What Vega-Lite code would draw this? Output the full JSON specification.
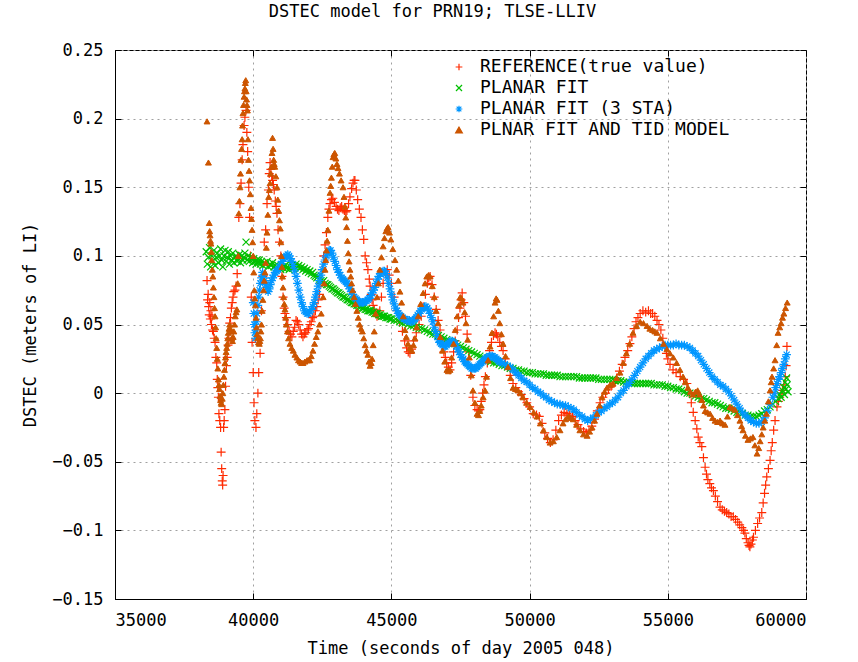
{
  "$schema": "https://vega.github.io/schema/vega-lite/v6.json",
  "width": 691,
  "height": 549,
  "autosize": {"type": "none"},
  "padding": {"left": 115, "top": 50, "right": 52, "bottom": 63},
  "background": "#ffffff",
  "title": {"text": "DSTEC model for PRN19; TLSE-LLIV", "font": "DejaVu Sans Mono", "fontSize": 17, "fontWeight": "normal", "color": "#000", "offset": 20, "dx": -28},
  "encoding": {
    "x": {"field": "t", "type": "quantitative", "scale": {"domain": [35000, 60000], "nice": false, "zero": false}},
    "y": {"field": "v", "type": "quantitative", "scale": {"domain": [-0.15, 0.25], "nice": false, "zero": false}}
  },
  "layer": [
    {
      "data": {"format": {"type": "csv", "parse": {"t": "number", "v": "number"}}, "values": "t,v\n38330,0.082\n38350,0.068\n38370,0.072\n38390,0.063\n38410,0.057\n38430,0.066\n38450,0.054\n38470,0.06\n38490,0.05\n38510,0.056\n38530,0.046\n38560,0.045\n38590,0.04\n38620,0.037\n38650,0.026\n38680,0.022\n38700,0.01\n38720,0.004\n38740,-0.003\n38760,-0.015\n38790,-0.02\n38820,-0.025\n38840,-0.043\n38860,-0.055\n38880,-0.064\n38895,-0.067\n38910,-0.06\n38930,-0.025\n38950,-0.02\n38975,-0.012\n39000,0.005\n39030,0.02\n39060,0.026\n39090,0.035\n39120,0.04\n39150,0.051\n39180,0.055\n39210,0.062\n39240,0.066\n39270,0.07\n39300,0.074\n39340,0.075\n39380,0.078\n39420,0.087\n39450,0.1\n39480,0.128\n39520,0.138\n39560,0.153\n39600,0.17\n39630,0.181\n39670,0.195\n39700,0.201\n39740,0.206\n39770,0.19\n39800,0.176\n39840,0.15\n39870,0.128\n39900,0.1\n39930,0.07\n39960,0.037\n40000,0.015\n40030,-0.007\n40060,-0.02\n40100,-0.025\n40130,-0.015\n40170,0.0\n40200,0.015\n40250,0.029\n40300,0.06\n40350,0.085\n40400,0.11\n40450,0.119\n40500,0.138\n40550,0.148\n40580,0.16\n40610,0.168\n40640,0.163\n40670,0.158\n40700,0.155\n40730,0.152\n40760,0.148\n40800,0.14\n40830,0.136\n40860,0.131\n40900,0.119\n40950,0.11\n41000,0.1\n41040,0.085\n41080,0.07\n41120,0.062\n41150,0.058\n41200,0.055\n41250,0.05\n41300,0.045\n41350,0.043\n41400,0.041\n41450,0.045\n41500,0.048\n41550,0.053\n41600,0.052\n41650,0.05\n41700,0.046\n41750,0.043\n41800,0.041\n41850,0.043\n41900,0.044\n41950,0.046\n42000,0.047\n42050,0.05\n42100,0.052\n42150,0.055\n42200,0.056\n42250,0.06\n42300,0.063\n42350,0.068\n42400,0.072\n42450,0.08\n42500,0.09\n42550,0.1\n42600,0.108\n42650,0.117\n42700,0.128\n42740,0.134\n42780,0.138\n42830,0.141\n42880,0.142\n42940,0.139\n43000,0.136\n43050,0.134\n43100,0.133\n43150,0.135\n43200,0.136\n43250,0.134\n43300,0.133\n43350,0.132\n43390,0.133\n43450,0.138\n43500,0.143\n43560,0.149\n43610,0.153\n43650,0.155\n43680,0.155\n43730,0.148\n43780,0.141\n43840,0.134\n43900,0.128\n43950,0.119\n44000,0.112\n44050,0.1\n44100,0.095\n44150,0.09\n44200,0.083\n44230,0.078\n44270,0.072\n44300,0.068\n44340,0.064\n44380,0.061\n44430,0.058\n44480,0.056\n44530,0.057\n44580,0.06\n44640,0.07\n44700,0.08\n44780,0.087\n44850,0.09\n44920,0.086\n45000,0.08\n45100,0.07\n45200,0.06\n45300,0.052\n45400,0.045\n45480,0.038\n45550,0.033\n45610,0.03\n45670,0.029\n45730,0.032\n45800,0.038\n45900,0.044\n46000,0.05\n46080,0.056\n46150,0.063\n46230,0.072\n46300,0.08\n46350,0.084\n46400,0.085\n46470,0.079\n46550,0.07\n46620,0.061\n46690,0.053\n46760,0.046\n46830,0.038\n46900,0.03\n46950,0.026\n47000,0.022\n47060,0.019\n47120,0.017\n47180,0.022\n47250,0.03\n47310,0.038\n47380,0.046\n47430,0.055\n47480,0.062\n47520,0.068\n47560,0.073\n47620,0.066\n47680,0.056\n47740,0.043\n47800,0.03\n47870,0.013\n47950,-0.003\n48020,-0.009\n48100,-0.012\n48150,-0.013\n48200,-0.012\n48250,-0.006\n48300,0.0\n48350,0.006\n48400,0.012\n48470,0.022\n48550,0.031\n48620,0.037\n48690,0.042\n48750,0.044\n48800,0.043\n48850,0.041\n48920,0.037\n48980,0.034\n49040,0.031\n49120,0.025\n49200,0.019\n49300,0.013\n49400,0.007\n49500,0.004\n49600,0.001\n49700,-0.001\n49800,-0.004\n49900,-0.007\n50000,-0.01\n50130,-0.015\n50250,-0.016\n50350,-0.017\n50450,-0.022\n50550,-0.029\n50650,-0.033\n50750,-0.036\n50850,-0.034\n50950,-0.027\n51050,-0.02\n51150,-0.016\n51250,-0.014\n51350,-0.015\n51450,-0.016\n51550,-0.017\n51650,-0.02\n51750,-0.023\n51850,-0.026\n51950,-0.028\n52050,-0.029\n52150,-0.027\n52250,-0.024\n52350,-0.019\n52450,-0.013\n52550,-0.007\n52650,-0.003\n52750,0.0\n52850,0.003\n52950,0.005\n53050,0.007\n53150,0.011\n53250,0.016\n53350,0.021\n53450,0.026\n53550,0.031\n53630,0.036\n53700,0.041\n53780,0.047\n53850,0.052\n53920,0.055\n54000,0.058\n54100,0.06\n54200,0.059\n54300,0.06\n54380,0.058\n54450,0.058\n54530,0.056\n54610,0.053\n54680,0.05\n54750,0.046\n54820,0.04\n54900,0.034\n54950,0.029\n55000,0.025\n55080,0.021\n55190,0.017\n55300,0.015\n55450,0.012\n55570,0.01\n55690,0.007\n55770,0.0\n55850,-0.007\n55920,-0.014\n55990,-0.02\n56050,-0.026\n56100,-0.032\n56160,-0.036\n56230,-0.039\n56290,-0.047\n56350,-0.054\n56400,-0.059\n56450,-0.063\n56520,-0.066\n56580,-0.069\n56650,-0.071\n56720,-0.075\n56800,-0.079\n56890,-0.083\n56970,-0.085\n57050,-0.086\n57130,-0.087\n57210,-0.088\n57290,-0.09\n57370,-0.09\n57450,-0.092\n57530,-0.094\n57600,-0.096\n57680,-0.098\n57740,-0.1\n57790,-0.102\n57840,-0.106\n57900,-0.109\n57940,-0.111\n57970,-0.112\n58010,-0.11\n58060,-0.107\n58100,-0.105\n58170,-0.1\n58250,-0.095\n58320,-0.091\n58400,-0.087\n58450,-0.08\n58500,-0.073\n58540,-0.067\n58580,-0.061\n58640,-0.055\n58700,-0.049\n58740,-0.042\n58780,-0.036\n58830,-0.027\n58880,-0.02\n58950,-0.01\n59000,-0.006\n59050,-0.003\n59100,0.0\n59150,0.002\n59200,0.006\n59250,0.012\n59280,0.02\n59310,0.034"},
      "mark": {"type": "point", "size": 80, "strokeWidth": 1.2, "opacity": 1},
      "encoding": {
        "x": {"field": "t", "type": "quantitative", "axis": {"orient": "bottom", "title": "Time (seconds of day 2005 048)", "values": [35000, 40000, 45000, 50000, 55000, 60000], "format": "d", "grid": true, "tickSize": -6, "labelPadding": 19, "titlePadding": 12, "domain": true}},
        "y": {"field": "v", "type": "quantitative", "axis": {"orient": "left", "title": "DSTEC (meters of LI)", "values": [-0.15, -0.1, -0.05, 0, 0.05, 0.1, 0.15, 0.2, 0.25], "format": ".2~f", "grid": true, "tickSize": -6, "labelPadding": 18, "titlePadding": 12, "domain": true}},
        "stroke": {"datum": "REFERENCE(true value)", "scale": {"domain": ["REFERENCE(true value)", "PLANAR FIT", "PLANAR FIT (3 STA)", "PLNAR FIT AND TID MODEL"], "range": ["#ff2a00", "#00c000", "#0096ff", "#cc5500"]}, "legend": {"title": null}},
        "fill": {"datum": "REFERENCE(true value)", "scale": {"domain": ["REFERENCE(true value)", "PLANAR FIT", "PLANAR FIT (3 STA)", "PLNAR FIT AND TID MODEL"], "range": ["transparent", "transparent", "transparent", "#cc5500"]}, "legend": {"title": null}},
        "shape": {"datum": "REFERENCE(true value)", "scale": {"domain": ["REFERENCE(true value)", "PLANAR FIT", "PLANAR FIT (3 STA)", "PLNAR FIT AND TID MODEL"], "range": ["M-1,0H1M0,-1V1", "M-0.9,-0.9L0.9,0.9M-0.9,0.9L0.9,-0.9", "M-1,0H1M0,-1V1M-0.7,-0.7L0.7,0.7M-0.7,0.7L0.7,-0.7", "triangle-up"]}, "legend": {"title": null}}
      }
    },
    {
      "data": {"format": {"type": "csv", "parse": {"t": "number", "v": "number"}}, "values": "t,v\n38300,0.103\n38340,0.094\n38380,0.099\n38420,0.106\n38460,0.092\n38500,0.1\n38540,0.096\n38580,0.104\n38620,0.093\n38660,0.099\n38700,0.102\n38740,0.095\n38780,0.1\n38820,0.105\n38860,0.097\n38900,0.092\n38940,0.1\n38980,0.104\n39020,0.096\n39060,0.099\n39100,0.103\n39140,0.094\n39180,0.1\n39220,0.097\n39260,0.102\n39300,0.095\n39340,0.099\n39380,0.1\n39420,0.096\n39460,0.098\n39500,0.101\n39540,0.095\n39580,0.1\n39620,0.097\n39660,0.099\n39700,0.102\n39740,0.11\n39780,0.097\n39820,0.1\n39860,0.096\n39900,0.099\n39940,0.098\n39980,0.095\n40020,0.098\n40060,0.096\n40100,0.094\n40140,0.097\n40180,0.095\n40220,0.097\n40260,0.094\n40300,0.096\n40350,0.093\n40400,0.095\n40450,0.094\n40500,0.096\n40550,0.092\n40600,0.094\n40650,0.093\n40700,0.095\n40750,0.092\n40800,0.093\n40850,0.091\n40900,0.093\n40950,0.092\n41000,0.09\n41050,0.092\n41100,0.091\n41150,0.093\n41200,0.091\n41250,0.092\n41300,0.09\n41350,0.092\n41400,0.093\n41450,0.091\n41500,0.092\n41550,0.094\n41600,0.092\n41650,0.093\n41700,0.091\n41750,0.092\n41800,0.09\n41850,0.091\n41900,0.089\n41950,0.09\n42000,0.088\n42050,0.089\n42100,0.087\n42150,0.088\n42200,0.086\n42250,0.085\n42300,0.084\n42350,0.085\n42400,0.083\n42450,0.082\n42500,0.081\n42550,0.082\n42600,0.08\n42650,0.079\n42700,0.079\n42750,0.078\n42800,0.077\n42850,0.076\n42900,0.076\n42950,0.075\n43000,0.074\n43050,0.073\n43100,0.073\n43150,0.072\n43200,0.071\n43250,0.07\n43300,0.07\n43350,0.069\n43400,0.068\n43450,0.068\n43500,0.067\n43550,0.066\n43600,0.066\n43650,0.065\n43700,0.065\n43750,0.064\n43800,0.064\n43850,0.063\n43900,0.063\n43950,0.062\n44000,0.062\n44050,0.061\n44100,0.061\n44150,0.06\n44200,0.06\n44250,0.06\n44300,0.059\n44350,0.059\n44400,0.058\n44450,0.058\n44500,0.058\n44550,0.057\n44600,0.057\n44650,0.056\n44700,0.056\n44750,0.056\n44800,0.055\n44850,0.055\n44900,0.055\n44950,0.054\n45000,0.054\n45100,0.053\n45200,0.053\n45300,0.052\n45400,0.051\n45500,0.051\n45600,0.05\n45700,0.049\n45800,0.049\n45900,0.048\n46000,0.047\n46100,0.047\n46200,0.046\n46300,0.045\n46400,0.044\n46500,0.043\n46600,0.043\n46700,0.042\n46800,0.041\n46900,0.04\n47000,0.039\n47100,0.038\n47200,0.037\n47300,0.036\n47400,0.035\n47500,0.034\n47600,0.033\n47700,0.032\n47800,0.031\n47900,0.03\n48000,0.029\n48100,0.028\n48200,0.027\n48300,0.026\n48400,0.025\n48500,0.024\n48600,0.023\n48700,0.022\n48800,0.022\n48900,0.021\n49000,0.02\n49100,0.02\n49200,0.019\n49300,0.018\n49400,0.018\n49500,0.017\n49600,0.017\n49700,0.016\n49800,0.016\n49900,0.015\n50000,0.015\n50100,0.015\n50200,0.014\n50300,0.014\n50400,0.014\n50500,0.014\n50600,0.013\n50700,0.013\n50800,0.013\n50900,0.013\n51000,0.013\n51100,0.012\n51200,0.012\n51300,0.012\n51400,0.012\n51500,0.012\n51600,0.012\n51700,0.012\n51800,0.011\n51900,0.011\n52000,0.011\n52100,0.011\n52200,0.011\n52300,0.011\n52400,0.011\n52500,0.01\n52600,0.01\n52700,0.01\n52800,0.01\n52900,0.01\n53000,0.01\n53100,0.009\n53200,0.009\n53300,0.009\n53400,0.008\n53500,0.008\n53600,0.008\n53700,0.007\n53800,0.007\n53900,0.007\n54000,0.007\n54100,0.007\n54200,0.007\n54300,0.007\n54400,0.007\n54500,0.006\n54600,0.006\n54700,0.006\n54800,0.006\n54900,0.005\n55000,0.005\n55100,0.004\n55200,0.004\n55300,0.003\n55400,0.003\n55500,0.002\n55600,0.001\n55700,0.0\n55800,0.0\n55900,-0.001\n56000,-0.002\n56100,-0.003\n56200,-0.004\n56300,-0.004\n56400,-0.005\n56500,-0.006\n56600,-0.007\n56700,-0.007\n56800,-0.008\n56900,-0.009\n57000,-0.01\n57100,-0.011\n57200,-0.011\n57300,-0.012\n57400,-0.013\n57500,-0.014\n57600,-0.014\n57700,-0.015\n57800,-0.016\n57900,-0.016\n58000,-0.017\n58100,-0.017\n58200,-0.017\n58300,-0.016\n58400,-0.015\n58500,-0.013\n58600,-0.012\n58700,-0.01\n58800,-0.008\n58900,-0.006\n59000,-0.004\n59050,-0.001\n59100,-0.003\n59150,0.002\n59200,0.004\n59220,-0.001\n59250,0.008\n59280,0.003\n59300,0.011\n59320,0.006\n59350,0.001"},
      "mark": {"type": "point", "size": 60, "strokeWidth": 1.2, "opacity": 1},
      "encoding": {
        "x": {"field": "t", "type": "quantitative", "axis": null},
        "y": {"field": "v", "type": "quantitative", "axis": null},
        "stroke": {"datum": "PLANAR FIT"},
        "fill": {"datum": "PLANAR FIT"},
        "shape": {"datum": "PLANAR FIT"}
      }
    },
    {
      "data": {"format": {"type": "csv", "parse": {"t": "number", "v": "number"}}, "values": "t,v\n40000,0.066\n40020,0.058\n40040,0.05\n40060,0.044\n40080,0.04\n40100,0.046\n40120,0.052\n40140,0.058\n40170,0.064\n40200,0.07\n40230,0.075\n40260,0.08\n40300,0.084\n40340,0.088\n40380,0.086\n40420,0.082\n40460,0.079\n40500,0.077\n40540,0.074\n40580,0.076\n40620,0.079\n40660,0.082\n40700,0.084\n40750,0.086\n40800,0.088\n40850,0.089\n40900,0.09\n40950,0.092\n41000,0.094\n41050,0.096\n41100,0.098\n41150,0.099\n41200,0.1\n41250,0.101\n41300,0.1\n41350,0.098\n41400,0.096\n41450,0.093\n41500,0.089\n41550,0.085\n41600,0.08\n41650,0.075\n41700,0.07\n41750,0.066\n41800,0.063\n41850,0.06\n41900,0.059\n41950,0.058\n42000,0.058\n42050,0.059\n42100,0.061\n42150,0.063\n42200,0.066\n42250,0.07\n42300,0.074\n42350,0.078\n42400,0.082\n42450,0.086\n42500,0.09\n42550,0.094\n42600,0.097\n42650,0.1\n42700,0.102\n42750,0.104\n42800,0.104\n42850,0.102\n42900,0.099\n42950,0.096\n43000,0.093\n43050,0.09\n43100,0.088\n43150,0.086\n43200,0.084\n43250,0.083\n43300,0.082\n43350,0.081\n43400,0.08\n43450,0.078\n43500,0.076\n43550,0.074\n43600,0.072\n43650,0.07\n43700,0.069\n43750,0.068\n43800,0.067\n43850,0.066\n43900,0.066\n43950,0.066\n44000,0.066\n44050,0.067\n44100,0.067\n44150,0.068\n44200,0.069\n44250,0.071\n44300,0.073\n44350,0.075\n44400,0.077\n44450,0.08\n44500,0.083\n44550,0.085\n44600,0.087\n44650,0.088\n44700,0.089\n44750,0.089\n44800,0.087\n44850,0.084\n44900,0.08\n44950,0.076\n45000,0.072\n45050,0.068\n45100,0.065\n45150,0.062\n45200,0.06\n45250,0.058\n45300,0.057\n45350,0.056\n45400,0.055\n45450,0.054\n45500,0.054\n45550,0.053\n45600,0.053\n45650,0.053\n45700,0.052\n45750,0.052\n45800,0.053\n45850,0.054\n45900,0.055\n45950,0.057\n46000,0.058\n46050,0.06\n46100,0.061\n46150,0.062\n46200,0.063\n46250,0.063\n46300,0.062\n46350,0.06\n46400,0.058\n46450,0.055\n46500,0.052\n46550,0.048\n46600,0.045\n46650,0.042\n46700,0.039\n46750,0.037\n46800,0.036\n46850,0.035\n46900,0.034\n46950,0.034\n47000,0.035\n47050,0.036\n47100,0.037\n47150,0.038\n47200,0.038\n47250,0.037\n47300,0.036\n47350,0.034\n47400,0.032\n47450,0.03\n47500,0.028\n47550,0.026\n47600,0.025\n47650,0.023\n47700,0.022\n47750,0.021\n47800,0.02\n47850,0.019\n47900,0.018\n47950,0.018\n48000,0.018\n48050,0.018\n48100,0.019\n48150,0.02\n48200,0.021\n48250,0.022\n48300,0.023\n48350,0.024\n48400,0.025\n48450,0.026\n48500,0.026\n48550,0.027\n48600,0.027\n48650,0.027\n48700,0.026\n48750,0.026\n48800,0.025\n48850,0.024\n48900,0.023\n48950,0.023\n49000,0.022\n49100,0.021\n49200,0.02\n49300,0.019\n49400,0.017\n49500,0.015\n49600,0.013\n49700,0.011\n49800,0.009\n49900,0.008\n50000,0.006\n50100,0.004\n50200,0.003\n50300,0.001\n50400,0.0\n50500,-0.002\n50600,-0.003\n50700,-0.005\n50800,-0.006\n50900,-0.007\n51000,-0.008\n51100,-0.008\n51200,-0.009\n51300,-0.009\n51400,-0.01\n51500,-0.011\n51600,-0.012\n51700,-0.014\n51800,-0.016\n51900,-0.017\n52000,-0.019\n52100,-0.02\n52200,-0.019\n52300,-0.018\n52400,-0.016\n52500,-0.014\n52600,-0.013\n52700,-0.011\n52800,-0.01\n52900,-0.008\n53000,-0.007\n53100,-0.005\n53200,-0.003\n53300,0.0\n53400,0.002\n53500,0.005\n53600,0.007\n53700,0.01\n53800,0.013\n53900,0.016\n54000,0.019\n54100,0.022\n54200,0.025\n54300,0.027\n54400,0.029\n54500,0.031\n54600,0.032\n54700,0.033\n54800,0.034\n54900,0.035\n55000,0.035\n55100,0.035\n55200,0.035\n55300,0.036\n55400,0.035\n55500,0.035\n55600,0.035\n55700,0.034\n55800,0.033\n55900,0.031\n56000,0.029\n56100,0.027\n56200,0.024\n56300,0.021\n56400,0.018\n56500,0.015\n56600,0.012\n56700,0.01\n56800,0.008\n56900,0.006\n57000,0.005\n57100,0.003\n57200,0.001\n57300,-0.002\n57400,-0.005\n57500,-0.008\n57600,-0.011\n57700,-0.014\n57800,-0.016\n57900,-0.018\n58000,-0.02\n58100,-0.021\n58200,-0.022\n58300,-0.022\n58400,-0.021\n58500,-0.018\n58600,-0.013\n58700,-0.008\n58800,-0.003\n58850,0.0\n58900,0.004\n58950,0.007\n59000,0.01\n59050,0.012\n59100,0.015\n59150,0.018\n59200,0.021\n59250,0.025\n59300,0.028"},
      "mark": {"type": "point", "size": 75, "strokeWidth": 1.2, "opacity": 1},
      "encoding": {
        "x": {"field": "t", "type": "quantitative", "axis": null},
        "y": {"field": "v", "type": "quantitative", "axis": null},
        "stroke": {"datum": "PLANAR FIT (3 STA)"},
        "fill": {"datum": "PLANAR FIT (3 STA)"},
        "shape": {"datum": "PLANAR FIT (3 STA)"}
      }
    },
    {
      "data": {"format": {"type": "csv", "parse": {"t": "number", "v": "number"}}, "values": "t,v\n38330,0.198\n38380,0.168\n38410,0.124\n38425,0.118\n38440,0.115\n38455,0.111\n38470,0.109\n38485,0.103\n38500,0.097\n38520,0.09\n38540,0.085\n38560,0.077\n38580,0.07\n38600,0.062\n38620,0.056\n38640,0.048\n38660,0.04\n38680,0.033\n38700,0.025\n38720,0.018\n38740,0.01\n38760,0.006\n38780,0.003\n38800,-0.002\n38820,-0.005\n38840,-0.007\n38860,-0.008\n38880,-0.004\n38900,0.0\n38920,0.006\n38940,0.012\n38960,0.017\n38980,0.022\n39000,0.026\n39020,0.03\n39040,0.033\n39060,0.036\n39080,0.04\n39100,0.044\n39125,0.047\n39150,0.05\n39175,0.047\n39200,0.045\n39225,0.04\n39250,0.038\n39275,0.041\n39300,0.045\n39325,0.05\n39350,0.056\n39380,0.059\n39410,0.061\n39440,0.08\n39460,0.1\n39480,0.131\n39500,0.14\n39520,0.15\n39540,0.16\n39560,0.17\n39580,0.178\n39600,0.185\n39615,0.195\n39630,0.204\n39650,0.21\n39670,0.216\n39685,0.22\n39700,0.222\n39715,0.226\n39730,0.228\n39745,0.22\n39760,0.214\n39775,0.21\n39790,0.206\n39810,0.185\n39830,0.17\n39850,0.162\n39870,0.155\n39895,0.145\n39920,0.135\n39940,0.127\n39960,0.119\n39980,0.11\n40000,0.1\n40020,0.088\n40040,0.075\n40060,0.069\n40080,0.064\n40100,0.055\n40120,0.048\n40140,0.043\n40160,0.04\n40190,0.037\n40220,0.036\n40240,0.038\n40260,0.04\n40280,0.045\n40300,0.05\n40325,0.06\n40350,0.068\n40375,0.075\n40400,0.082\n40425,0.088\n40450,0.095\n40475,0.106\n40500,0.117\n40530,0.13\n40560,0.143\n40585,0.148\n40610,0.153\n40635,0.16\n40660,0.165\n40680,0.175\n40700,0.186\n40720,0.178\n40740,0.17\n40760,0.167\n40780,0.165\n40820,0.158\n40860,0.15\n40890,0.141\n40920,0.133\n40950,0.126\n40980,0.12\n41000,0.11\n41020,0.1\n41040,0.092\n41060,0.085\n41080,0.077\n41100,0.07\n41125,0.065\n41150,0.061\n41175,0.055\n41200,0.05\n41240,0.045\n41280,0.04\n41330,0.036\n41390,0.033\n41450,0.031\n41510,0.028\n41580,0.026\n41640,0.024\n41700,0.023\n41750,0.022\n41800,0.022\n41870,0.023\n41950,0.024\n42000,0.024\n42050,0.024\n42100,0.027\n42160,0.031\n42220,0.036\n42280,0.041\n42340,0.045\n42400,0.05\n42460,0.058\n42530,0.07\n42570,0.08\n42600,0.09\n42625,0.097\n42650,0.104\n42675,0.111\n42700,0.119\n42740,0.133\n42780,0.146\n42805,0.151\n42830,0.157\n42860,0.165\n42890,0.172\n42920,0.174\n42950,0.175\n42990,0.171\n43030,0.167\n43070,0.164\n43120,0.16\n43180,0.155\n43250,0.15\n43285,0.143\n43320,0.136\n43350,0.128\n43380,0.121\n43410,0.111\n43440,0.102\n43470,0.096\n43500,0.09\n43530,0.085\n43560,0.08\n43600,0.075\n43650,0.07\n43700,0.065\n43750,0.06\n43800,0.055\n43850,0.05\n43900,0.047\n43950,0.045\n44000,0.04\n44050,0.035\n44100,0.031\n44150,0.028\n44190,0.023\n44230,0.02\n44270,0.022\n44300,0.025\n44340,0.035\n44380,0.045\n44430,0.058\n44480,0.07\n44530,0.08\n44580,0.09\n44640,0.099\n44700,0.107\n44750,0.113\n44800,0.118\n44840,0.12\n44880,0.121\n44930,0.117\n44980,0.112\n45050,0.105\n45130,0.097\n45190,0.09\n45250,0.082\n45310,0.074\n45370,0.066\n45430,0.056\n45490,0.046\n45540,0.041\n45600,0.036\n45670,0.033\n45740,0.031\n45800,0.035\n45850,0.04\n45910,0.048\n45970,0.056\n46060,0.065\n46150,0.073\n46220,0.08\n46280,0.085\n46340,0.086\n46400,0.085\n46480,0.078\n46550,0.07\n46620,0.06\n46690,0.051\n46770,0.041\n46850,0.031\n46930,0.023\n47010,0.017\n47060,0.016\n47120,0.017\n47180,0.026\n47250,0.036\n47310,0.046\n47380,0.056\n47440,0.064\n47490,0.07\n47540,0.069\n47590,0.066\n47650,0.059\n47700,0.051\n47760,0.039\n47820,0.026\n47890,0.013\n47950,0.002\n48020,-0.007\n48100,-0.015\n48150,-0.016\n48200,-0.013\n48250,-0.009\n48320,-0.003\n48390,0.002\n48440,0.012\n48500,0.024\n48570,0.034\n48640,0.044\n48700,0.056\n48750,0.066\n48790,0.069\n48820,0.068\n48870,0.06\n48920,0.051\n48980,0.043\n49040,0.036\n49130,0.027\n49220,0.019\n49310,0.011\n49400,0.004\n49490,0.003\n49580,0.002\n49670,0.0\n49760,-0.003\n49890,-0.007\n50020,-0.01\n50150,-0.014\n50270,-0.017\n50390,-0.022\n50500,-0.027\n50620,-0.032\n50740,-0.036\n50860,-0.035\n50980,-0.032\n51100,-0.027\n51210,-0.022\n51300,-0.019\n51400,-0.017\n51490,-0.018\n51580,-0.019\n51700,-0.023\n51820,-0.027\n51950,-0.03\n52080,-0.031\n52170,-0.028\n52260,-0.025\n52350,-0.02\n52440,-0.015\n52530,-0.009\n52620,-0.003\n52710,0.001\n52800,0.004\n52910,0.006\n53020,0.007\n53150,0.011\n53270,0.015\n53390,0.022\n53500,0.029\n53620,0.036\n53740,0.044\n53870,0.049\n54000,0.052\n54120,0.051\n54250,0.049\n54350,0.047\n54450,0.046\n54530,0.045\n54610,0.044\n54730,0.04\n54850,0.036\n54970,0.032\n55080,0.029\n55200,0.026\n55320,0.022\n55440,0.017\n55550,0.012\n55640,0.008\n55730,0.004\n55820,0.001\n55910,-0.001\n56000,0.001\n56080,0.002\n56150,-0.001\n56230,-0.005\n56290,-0.009\n56350,-0.013\n56440,-0.014\n56530,-0.015\n56620,-0.018\n56710,-0.02\n56800,-0.021\n56890,-0.02\n56980,-0.022\n57070,-0.023\n57160,-0.017\n57250,-0.01\n57340,-0.011\n57430,-0.012\n57520,-0.016\n57610,-0.02\n57670,-0.024\n57720,-0.027\n57810,-0.031\n57900,-0.034\n57990,-0.033\n58080,-0.032\n58150,-0.038\n58230,-0.044\n58290,-0.04\n58340,-0.035\n58400,-0.03\n58450,-0.025\n58510,-0.02\n58570,-0.015\n58640,-0.006\n58700,0.002\n58740,0.008\n58770,0.012\n58830,0.018\n58880,0.024\n58940,0.035\n58990,0.044\n59050,0.048\n59100,0.051\n59150,0.055\n59200,0.058\n59260,0.062\n59320,0.066"},
      "mark": {"type": "point", "size": 35, "strokeWidth": 1, "opacity": 1},
      "encoding": {
        "x": {"field": "t", "type": "quantitative", "axis": null},
        "y": {"field": "v", "type": "quantitative", "axis": null},
        "stroke": {"datum": "PLNAR FIT AND TID MODEL"},
        "fill": {"datum": "PLNAR FIT AND TID MODEL"},
        "shape": {"datum": "PLNAR FIT AND TID MODEL"}
      }
    },
    {
      "data": {"values": [{"t": 35000, "v": 0}, {"t": 60000, "v": 0.25}]},
      "mark": {"type": "point", "opacity": 0},
      "encoding": {
        "x": {"field": "t", "type": "quantitative", "axis": {"orient": "top", "title": null, "labels": false, "grid": false, "domain": false, "tickSize": -6, "values": [35000, 40000, 45000, 50000, 55000, 60000]}},
        "y": {"field": "v", "type": "quantitative", "axis": {"orient": "right", "title": null, "labels": false, "grid": false, "domain": false, "tickSize": -6, "values": [-0.15, -0.1, -0.05, 0, 0.05, 0.1, 0.15, 0.2, 0.25]}}
      }
    }
  ],
  "resolve": {"axis": {"x": "independent", "y": "independent"}},
  "config": {
    "font": "DejaVu Sans Mono",
    "view": {"stroke": "#000000", "strokeWidth": 1},
    "axis": {"labelFont": "DejaVu Sans Mono", "labelFontSize": 17, "labelColor": "#000000", "titleFont": "DejaVu Sans Mono", "titleFontSize": 17, "titleFontWeight": "normal", "titleColor": "#000000", "tickColor": "#000000", "domainColor": "#000000", "gridColor": "#a0a0a0", "gridDash": [2, 4], "gridWidth": 1},
    "legend": {"orient": "none", "legendX": 335, "legendY": 8, "labelFont": "DejaVu Sans Mono", "labelFontSize": 18, "labelColor": "#000000", "symbolSize": 45, "symbolStrokeWidth": 1.2, "rowPadding": 3, "labelOffset": 12, "labelLimit": 400}
  }
}
